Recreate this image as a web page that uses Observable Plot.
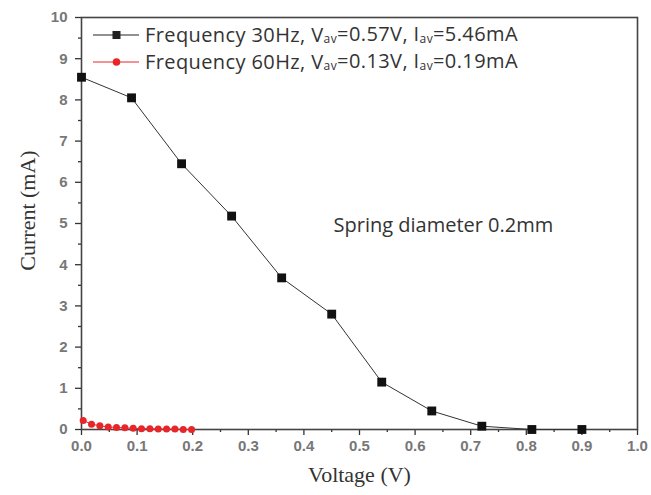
<!DOCTYPE html>
<html>
<head>
<meta charset="utf-8">
<script src="https://cdn.jsdelivr.net/npm/d3@7"></script>
<script src="https://cdn.jsdelivr.net/npm/@observablehq/plot@0.6"></script>
<style>
  html, body { margin: 0; padding: 0; background: #fff; }
  #chart svg { display: block; }
</style>
</head>
<body>
<div id="chart"></div>
<script>
// Series A: Frequency 30Hz
const voltage30 = [0.0, 0.09, 0.18, 0.27, 0.36, 0.45, 0.54, 0.63, 0.72, 0.81, 0.90];
const current30 = [8.55, 8.05, 6.45, 5.18, 3.68, 2.80, 1.15, 0.45, 0.08, 0.0, 0.0];
// Series B: Frequency 60Hz
const voltage60 = [0.003, 0.018, 0.033, 0.048, 0.063, 0.078, 0.093, 0.108, 0.123, 0.138, 0.153, 0.168, 0.183, 0.198];
const current60 = [0.22, 0.13, 0.09, 0.06, 0.05, 0.04, 0.03, 0.02, 0.02, 0.01, 0.01, 0.01, 0.0, 0.0];

const xTicks = [0, 0.1, 0.2, 0.3, 0.4, 0.5, 0.6, 0.7, 0.8, 0.9, 1.0];
const xMinor = [0.05, 0.15, 0.25, 0.35, 0.45, 0.55, 0.65, 0.75, 0.85, 0.95];
const yTicks = [0, 1, 2, 3, 4, 5, 6, 7, 8, 9, 10];
const yMinor = [0.5, 1.5, 2.5, 3.5, 4.5, 5.5, 6.5, 7.5, 8.5, 9.5];

const legendItems = [
  {label: "Frequency 30Hz", v: "0.57V", i: "5.46mA", color: "#222", symbol: "square"},
  {label: "Frequency 60Hz", v: "0.13V", i: "0.19mA", color: "#e8262a", symbol: "circle"}
];
const annotation = "Spring diameter 0.2mm";

const s30 = voltage30.map((v, k) => ({v, c: current30[k]}));
const s60 = voltage60.map((v, k) => ({v, c: current60[k]}));

const tickFont = "Liberation Sans, Arial, sans-serif";
const serif = "Liberation Serif, Times New Roman, serif";

const plot = Plot.plot({
  width: 651,
  height: 495,
  marginLeft: 81,
  marginRight: 14,
  marginTop: 17,
  marginBottom: 66,
  style: {fontFamily: tickFont, fontSize: "15px", color: "#555", background: "#fff"},
  x: {domain: [0, 1]},
  y: {domain: [0, 10]},
  marks: [
    Plot.axisX({ticks: xTicks, tickFormat: d3.format(".1f"), tickSize: 6, tickPadding: 5, label: null, stroke: "#333", strokeWidth: 1.3, fill: "#777", fontSize: 15, fontWeight: "bold"}),
    Plot.axisX({ticks: xMinor, tickFormat: () => "", tickSize: 3, label: null, stroke: "#333", strokeWidth: 1.3}),
    Plot.axisY({ticks: yTicks, tickFormat: d3.format("d"), tickSize: 6, tickPadding: 8, label: null, stroke: "#333", strokeWidth: 1.3, fill: "#777", fontSize: 15, fontWeight: "bold"}),
    Plot.axisY({ticks: yMinor, tickFormat: () => "", tickSize: 3, label: null, stroke: "#333", strokeWidth: 1.3}),
    Plot.frame({stroke: "#444", strokeWidth: 1.6}),
    Plot.line(s30, {x: "v", y: "c", stroke: "#333", strokeWidth: 1}),
    Plot.dot(s30, {x: "v", y: "c", symbol: "square", r: 5, fill: "#111", stroke: "none"}),
    Plot.line(s60, {x: "v", y: "c", stroke: "#e8262a", strokeWidth: 1}),
    Plot.dot(s60, {x: "v", y: "c", symbol: "circle", r: 3.5, fill: "#e8262a", stroke: "none"}),
    Plot.text([annotation], {frameAnchor: "top-left", dx: 252, dy: 200, text: d => d, textAnchor: "start", fontSize: 20, fill: "#333", fontFamily: "Open Sans, sans-serif"}),
    Plot.text(["Voltage (V)"], {frameAnchor: "bottom", dy: 52, text: d => d, textAnchor: "middle", fontSize: 22, fill: "#333", fontFamily: serif}),
    Plot.text(["Current (mA)"], {frameAnchor: "left", dx: -54, dy: -13, rotate: -90, text: d => d, textAnchor: "middle", lineAnchor: "middle", fontSize: 22, fill: "#333", fontFamily: serif})
  ]
});

// Legend with subscripts
const svg = d3.select(plot);
const lg = svg.append("g").attr("font-family", "Open Sans, sans-serif").attr("fill", "#333").attr("text-anchor", "start");
legendItems.forEach((it, k) => {
  const y = 35 + k * 27;
  lg.append("line").attr("x1", 93).attr("x2", 139).attr("y1", y).attr("y2", y).attr("stroke", it.color).attr("stroke-width", 1);
  if (it.symbol === "square") {
    lg.append("rect").attr("x", 112.5).attr("y", y - 4).attr("width", 8).attr("height", 8).attr("fill", it.color);
  } else {
    lg.append("circle").attr("cx", 116.5).attr("cy", y).attr("r", 3.8).attr("fill", it.color);
  }
  const t = lg.append("text").attr("x", 145).attr("y", y).attr("dy", "0.36em").attr("font-size", 20).attr("letter-spacing", "0.4px").attr("fill", "#333");
  t.append("tspan").text(it.label + ", V");
  t.append("tspan").attr("font-size", 12).attr("dy", "0.1em").text("av");
  t.append("tspan").attr("dy", "-0.1em").text("=" + it.v + ", I");
  t.append("tspan").attr("font-size", 12).attr("dy", "0.1em").text("av");
  t.append("tspan").attr("dy", "-0.1em").text("=" + it.i);
});

document.getElementById("chart").appendChild(plot);
</script>
</body>
</html>
